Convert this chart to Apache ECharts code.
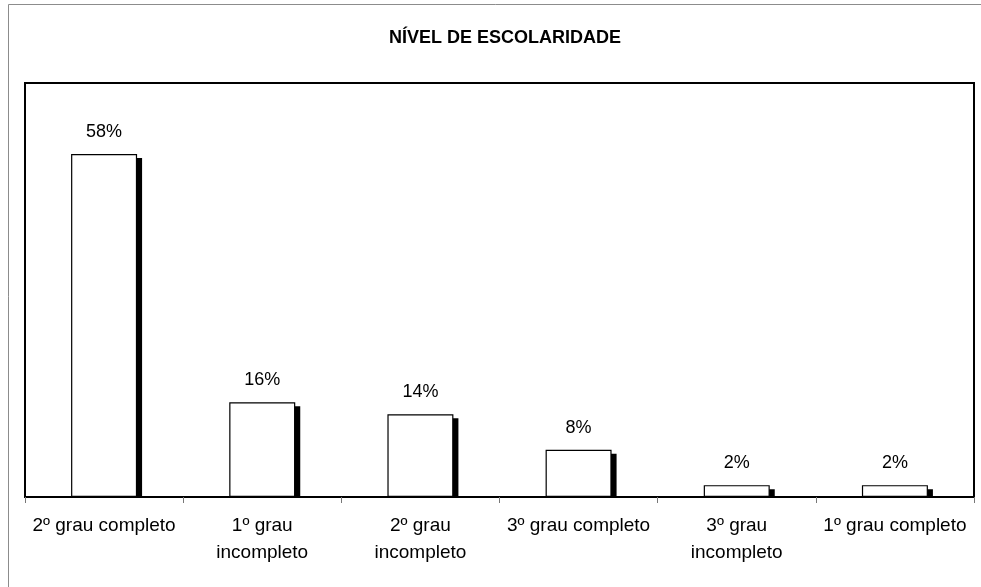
<!DOCTYPE html>
<html>
<head>
<meta charset="utf-8">
<script src="https://cdn.jsdelivr.net/npm/echarts@6/dist/echarts.min.js"></script>
<style>
html,body{margin:0;padding:0;background:#fff;}
#chart{width:981px;height:587px;}
</style>
</head>
<body>
<div id="chart"></div>
<script>
const categories = ['2º grau completo', '1º grau incompleto', '2º grau incompleto', '3º grau completo', '3º grau incompleto', '1º grau completo'];
const values = [58, 16, 14, 8, 2, 2];
const titleText = 'NÍVEL DE ESCOLARIDADE';

const FONT = '"Liberation Sans", Arial, sans-serif';
const BAR_W = 66;

const chart = echarts.init(document.getElementById('chart'), null, {renderer: 'canvas'});
chart.setOption({
  animation: false,
  backgroundColor: '#fff',
  title: {
    text: titleText,
    left: 500,
    top: 24,
    textAlign: 'center',
    textStyle: {fontFamily: FONT, fontSize: 18, fontWeight: 'bold', color: '#000'}
  },
  graphic: [{
    type: 'rect',
    shape: {x: 8.5, y: 4.5, width: 1000, height: 700},
    style: {fill: 'none', stroke: '#8c8c8c', lineWidth: 1},
    silent: true,
    z: -10
  }],
  grid: {
    left: 25, top: 83, right: 7, bottom: 90,
    show: true, borderColor: '#000', borderWidth: 2, backgroundColor: 'transparent'
  },
  xAxis: {
    type: 'category',
    data: categories,
    axisLine: {show: true, lineStyle: {color: '#000', width: 2}},
    axisTick: {show: true, length: 6, lineStyle: {color: '#777', width: 1}},
    axisLabel: {
      interval: 0, margin: 15, fontFamily: FONT, fontSize: 19, color: '#000',
      lineHeight: 27,
      formatter: function (v) { return v.replace(' incompleto', '\nincompleto'); }
    }
  },
  yAxis: {
    type: 'value', min: 0, max: 70,
    show: false, splitLine: {show: false}
  },
  series: [
    {
      type: 'custom',
      z: 1,
      data: values.map((v, i) => [i, v]),
      renderItem: function (params, api) {
        const top = api.coord([api.value(0), api.value(1)]);
        const base = api.coord([api.value(0), 0]);
        const x = top[0] - BAR_W / 2 + 5;
        const y = top[1] + 4;
        return {
          type: 'rect',
          shape: {x: x, y: y, width: BAR_W, height: Math.max(0, base[1] - y)},
          style: {fill: '#000'}
        };
      }
    },
    {
      type: 'bar',
      z: 2,
      data: values,
      barWidth: BAR_W,
      itemStyle: {color: '#fff', borderColor: '#000', borderWidth: 1.2},
      label: {
        show: true, position: 'top', distance: 13,
        formatter: '{c}%', fontFamily: FONT, fontSize: 18, color: '#000'
      }
    }
  ]
});
</script>
</body>
</html>
